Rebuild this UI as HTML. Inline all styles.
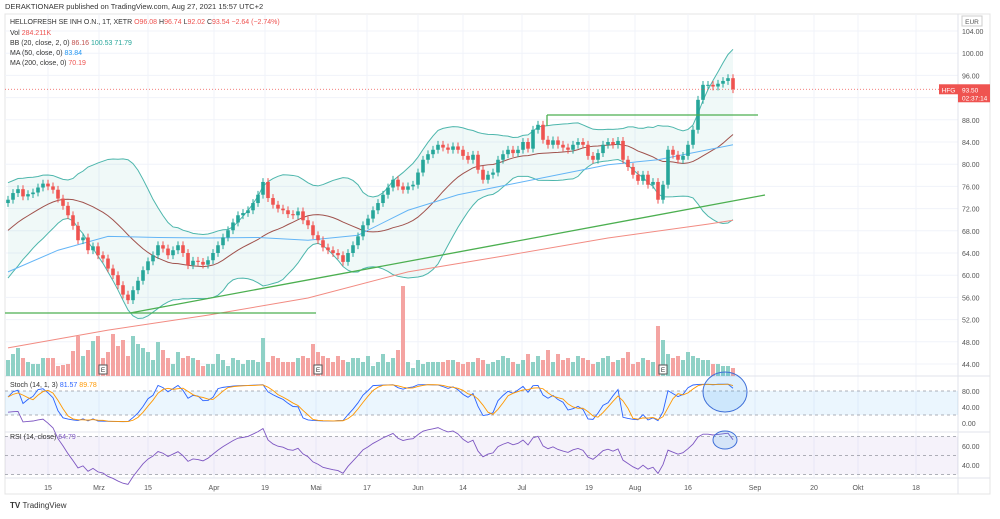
<!DOCTYPE html>
<html><head><meta charset="utf-8">
<style>
html,body{margin:0;padding:0;background:#fff;}
body{width:1000px;height:514px;overflow:hidden;font-family:"Liberation Sans",sans-serif;}
svg text{font-family:"Liberation Sans",sans-serif;}
</style></head>
<body>
<svg id="c" width="1000" height="514" viewBox="0 0 1000 514" xmlns="http://www.w3.org/2000/svg">
<text x="5" y="9" font-size="7.5" fill="#333">DERAKTIONAER published on TradingView.com, Aug 27, 2021 15:57 UTC+2</text>
<rect x="5" y="14" width="985" height="480" fill="none" stroke="#e4e4e4"/>
<g id="grid"></g>
<g id="main"></g>
<g id="legend" font-size="7">
<text x="10" y="24" fill="#333">HELLOFRESH SE INH O.N., 1T, XETR  <tspan fill="#ef5350">O96.08</tspan> <tspan fill="#333">H</tspan><tspan fill="#ef5350">96.74</tspan> <tspan fill="#333">L</tspan><tspan fill="#ef5350">92.02</tspan> <tspan fill="#333">C</tspan><tspan fill="#ef5350">93.54  −2.64 (−2.74%)</tspan></text>
<text x="10" y="35" fill="#333">Vol <tspan fill="#ef5350">284.211K</tspan></text>
<text x="10" y="45" fill="#333">BB (20, close, 2, 0) <tspan fill="#c0504d">86.16</tspan> <tspan fill="#26a69a">100.53</tspan> <tspan fill="#26a69a">71.79</tspan></text>
<text x="10" y="55" fill="#333">MA (50, close, 0) <tspan fill="#2196f3">83.84</tspan></text>
<text x="10" y="65" fill="#333">MA (200, close, 0) <tspan fill="#ef5350">70.19</tspan></text>
</g>
<text x="10" y="508" font-size="8" fill="#333" font-weight="bold">TV <tspan font-weight="normal">TradingView</tspan></text>
</svg>
<script>
const NS='http://www.w3.org/2000/svg';
const svg=document.getElementById('c');
const G=document.getElementById('main'),GR=document.getElementById('grid');
function el(t,a,p){const e=document.createElementNS(NS,t);for(const k in a)e.setAttribute(k,a[k]);(p||G).appendChild(e);return e;}

const preCloses=[60,61,62,63.5,64,65,66,66.5,67.5,68,69,70,70.5,71,72,72.5,73,73.5,73];
const closes=[73.6,74.8,75.5,74.2,74.6,74.9,75.8,76.5,76.0,75.4,
73.8,72.5,70.8,68.9,66.3,66.8,64.5,65.2,63.6,63.0,
61.2,60.0,58.2,56.5,55.5,57.3,59.0,60.9,62.5,63.6,
65.4,64.8,63.6,64.5,65.4,64.0,61.8,62.6,62.4,61.9,
62.7,64.0,65.4,66.8,68.1,69.5,70.8,71.2,71.7,73.0,
74.5,76.8,73.9,72.7,72.0,71.7,71.0,70.8,71.5,69.9,
69.0,67.2,66.3,65.0,64.5,64.0,63.6,62.4,64.0,65.4,
67.0,69.0,70.2,71.7,73.0,74.5,75.8,77.2,76.0,75.4,
76.0,76.3,78.5,80.8,81.8,82.6,83.5,83.0,82.6,83.2,
82.6,81.5,80.8,81.7,79.0,77.2,78.1,78.5,80.8,81.8,
82.6,82.0,82.6,84.0,82.8,86.2,87.1,84.4,83.5,84.3,
83.5,83.0,82.6,83.5,84.0,83.5,81.5,80.8,82.0,83.5,
84.0,83.5,84.2,80.8,79.5,78.1,77.0,78.1,76.3,76.8,
73.6,76.3,82.6,81.7,80.8,81.5,83.5,86.2,91.6,94.3,
94.3,94.0,94.5,95.0,95.5,93.5];
const volumes=[16,22,28,18,14,12,12,18,18,18,10,11,12,25,40,20,26,35,40,18,24,42,30,36,20,40,32,28,24,16,34,26,18,12,24,18,20,18,16,10,
12,12,22,16,10,18,16,12,16,16,14,38,14,20,18,14,14,14,18,20,18,32,24,20,18,14,20,16,14,18,
18,14,20,10,14,22,14,18,26,90,14,8,16,12,14,14,14,14,16,16,14,12,14,14,18,16,12,14,16,20,
18,14,12,16,22,14,20,16,26,14,22,16,18,14,20,18,16,12,14,18,20,14,16,18,24,12,14,18,16,14,
50,36,22,18,20,16,24,20,18,16,16,12,12,10,10,8];
const ma50=[60.6,64.5,67,66.8,66.7,66.8,66.3,67.2,71.7,74.5,76.3,78.1,79.9,80.8,82.6,83.5];
const ma200=[46.9,50.1,52.8,55.9,60.6,63.6,66.7,69.2,69.9];
const maIdx=[0,10,20,30,40,50,60,70,80,90,100,110,120,130,140,145];
const ma200Idx=[0,20,40,60,80,100,120,140,145];
const priceTicks=[104,100,96,92,88,84,80,76,72,68,64,60,56,52,48,44];
const dateLabels=['15','Mrz','15','Apr','19','Mai','17','Jun','14','Jul','19','Aug','16','Sep','20','Okt','18'];
const dateIdx=[8,18.2,28,41.2,51.4,61.6,71.8,82,91,102.8,116.2,125.4,136,149.4,161.2,170,181.6];

const X=i=>8+i*5.0;
const Y=p=>31+(104-p)*5.55;
const VY=v=>376-v;
const SY=v=>423-v*0.4;
const RYf=v=>446+(60-v)*0.95;

priceTicks.forEach(p=>{const l=el('line',{x1:5,x2:958,y1:Y(p),y2:Y(p),stroke:'#f0f3fa'},GR);
const t=el('text',{x:962,y:Y(p)+3,'font-size':7,fill:'#555'},GR);t.textContent=p.toFixed(2);});
dateIdx.forEach((d,k)=>{const x=X(d);const l=el('line',{x1:x,x2:x,y1:14,y2:478,stroke:'#f0f3fa'},GR);
const t=el('text',{x:x,y:490,'font-size':7,fill:'#555','text-anchor':'middle'},GR);t.textContent=dateLabels[k];});
[[958,14,958,494],[5,376,990,376],[5,432,990,432],[5,478,990,478]].forEach(a=>{const l=el('line',{x1:a[0],y1:a[1],x2:a[2],y2:a[3],stroke:'#e0e3eb'},GR);});
{const r=el('rect',{x:962,y:16,width:20,height:10,fill:'#fff',stroke:'#ccc'},GR);
const t=el('text',{x:972,y:24,'font-size':6.5,fill:'#555','text-anchor':'middle'},GR);t.textContent='EUR';}

const all=preCloses.concat(closes);const P=preCloses.length;
const opens=closes.map((c,i)=>i?closes[i-1]:preCloses[P-1]);
const highs=closes.map((c,i)=>Math.max(c,opens[i])+0.7);
const lows=closes.map((c,i)=>Math.min(c,opens[i])-0.7);
const mid=[],up=[],lo=[];
closes.forEach((c,i)=>{const w=all.slice(P+i-19,P+i+1);const m=w.reduce((a,b)=>a+b,0)/w.length;const sd=Math.sqrt(w.reduce((a,b)=>a+(b-m)*(b-m),0)/w.length);mid.push(m);up.push(m+2*sd);lo.push(m-2*sd);});

{let d='M'+up.map((v,i)=>X(i)+','+Y(v)).join('L')+'L'+lo.map((v,i)=>X(i)+','+Y(v)).reverse().join('L')+'Z';
const f=el('path',{d:d,fill:'rgba(38,166,154,0.07)'});}
function line(arr,idx,col,name,w){const d='M'+arr.map((v,k)=>X(idx?idx[k]:k)+','+Y(v)).join('L');const p=el('path',{d:d,fill:'none',stroke:col,'stroke-width':w||1});}
line(up,null,'#4db6ac','bollinger-upper');line(lo,null,'#4db6ac','bollinger-lower');line(mid,null,'#a0524d','bollinger-basis');
line(ma50,maIdx,'#64b5f6','ma50-line');line(ma200,ma200Idx,'#f28b82','ma200-line');

volumes.forEach((v,i)=>{const r=el('rect',{x:X(i)-2,y:VY(v),width:4,height:v,fill:closes[i]>=opens[i]?'#8fd1c6':'#f4a4a2'});});
closes.forEach((c,i)=>{const o=opens[i];const col=c>=o?'#26a69a':'#ef5350';
const w=el('line',{x1:X(i),x2:X(i),y1:Y(highs[i]),y2:Y(lows[i]),stroke:col});
const r=el('rect',{x:X(i)-1.8,y:Y(Math.max(o,c)),width:3.6,height:Math.max(1,Math.abs(Y(o)-Y(c))),fill:col});});

[[5,313,316,313],[130,313,765,195],[547,115,758,115],[547,115,547,126]].forEach(a=>{const l=el('line',{x1:a[0],y1:a[1],x2:a[2],y2:a[3],stroke:'#4caf50','stroke-width':1.3});});
{const lp=closes[closes.length-1];const l=el('line',{x1:5,x2:958,y1:Y(lp),y2:Y(lp),stroke:'#ef5350','stroke-dasharray':'1,2','stroke-width':0.7});
const b=el('rect',{x:939,y:Y(lp)-5,width:19,height:10,fill:'#ef5350'});
const t=el('text',{x:948.5,y:Y(lp)+3,'font-size':6.5,fill:'#fff','text-anchor':'middle'});t.textContent='HFG';
const b2=el('rect',{x:958,y:Y(lp)-5,width:32,height:18,fill:'#ef5350'});
const t2=el('text',{x:962,y:Y(lp)+3,'font-size':6.5,fill:'#fff'});t2.textContent=lp.toFixed(2);
const t3=el('text',{x:962,y:Y(lp)+11,'font-size':6.5,fill:'#fff'});t3.textContent='02:37:14';}
[19,62,131].forEach(i=>{const r=el('rect',{x:X(i)-4,y:365,width:8,height:9,fill:'#fff',stroke:'#555'});
const t=el('text',{x:X(i),y:372,'font-size':6.5,fill:'#333','text-anchor':'middle'});t.textContent='E';});

{const bg=el('rect',{x:5,y:SY(80),width:953,height:SY(20)-SY(80),fill:'rgba(33,150,243,0.09)'});
[80,20].forEach(v=>{const l=el('line',{x1:5,x2:958,y1:SY(v),y2:SY(v),stroke:'#9598a1','stroke-dasharray':'3,3','stroke-width':0.7});});
const K=closes.map((c,i)=>{const s=Math.max(0,i-13);const hh=Math.max(...highs.slice(s,i+1)),ll=Math.min(...lows.slice(s,i+1));return hh>ll?100*(c-ll)/(hh-ll):50;});
const D=K.map((v,i)=>{const w=K.slice(Math.max(0,i-2),i+1);return w.reduce((a,b)=>a+b,0)/w.length;});
const pk=el('path',{d:'M'+K.map((v,i)=>X(i)+','+SY(v)).join('L'),fill:'none',stroke:'#2962ff','stroke-width':0.9});
const pd=el('path',{d:'M'+D.map((v,i)=>X(i)+','+SY(v)).join('L'),fill:'none',stroke:'#ff9800','stroke-width':0.9});
[80,40,0].forEach(v=>{const t=el('text',{x:962,y:SY(v)+3,'font-size':7,fill:'#555'});t.textContent=v.toFixed(2);});
const t=el('text',{x:10,y:387,'font-size':7,fill:'#333'});t.innerHTML='Stoch (14, 1, 3) <tspan fill="#2962ff">81.57</tspan> <tspan fill="#ff9800">89.78</tspan>';}

{const bg=el('rect',{x:5,y:RYf(70),width:953,height:RYf(30)-RYf(70),fill:'rgba(126,87,194,0.08)'});
[70,50,30].forEach(v=>{const l=el('line',{x1:5,x2:958,y1:RYf(v),y2:RYf(v),stroke:'#9598a1','stroke-dasharray':'3,3','stroke-width':0.7});});
let ag=0,al=0;for(let j=1;j<=14;j++){const d=all[j]-all[j-1];ag+=Math.max(d,0)/14;al+=Math.max(-d,0)/14;}
for(let j=15;j<P;j++){const d=all[j]-all[j-1];ag=(ag*13+Math.max(d,0))/14;al=(al*13+Math.max(-d,0))/14;}
const R=closes.map((c,i)=>{const d=c-all[P+i-1];ag=(ag*13+Math.max(d,0))/14;al=(al*13+Math.max(-d,0))/14;return al?100-100/(1+ag/al):100;});
const pr=el('path',{d:'M'+R.map((v,i)=>X(i)+','+RYf(v)).join('L'),fill:'none',stroke:'#7e57c2','stroke-width':0.9});
[60,40].forEach(v=>{const t=el('text',{x:962,y:RYf(v)+3,'font-size':7,fill:'#555'});t.textContent=v.toFixed(2);});
const t=el('text',{x:10,y:439,'font-size':7,fill:'#333'});t.innerHTML='RSI (14, close) <tspan fill="#7e57c2">64.79</tspan>';}

[[725,392,22,20],[725,440,12,9]].forEach(a=>{const e=el('ellipse',{cx:a[0],cy:a[1],rx:a[2],ry:a[3],fill:'rgba(33,150,243,0.15)',stroke:'#3f6fd8','stroke-width':1});});
</script>
</body></html>
